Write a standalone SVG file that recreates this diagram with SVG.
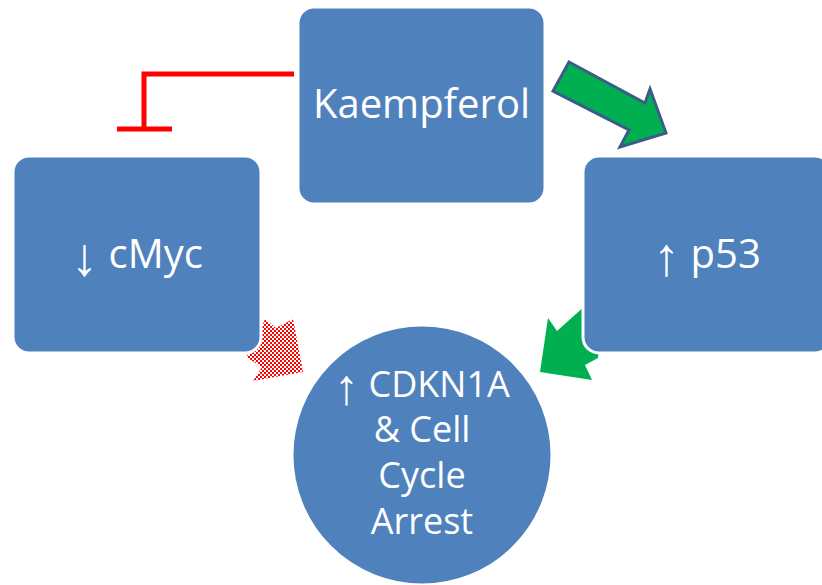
<svg xmlns="http://www.w3.org/2000/svg" width="822" height="585" viewBox="0 0 822 585">
  <defs>
    <pattern id="checks" width="4" height="4" patternUnits="userSpaceOnUse">
      <rect width="4" height="4" fill="#ffffff"/>
      <rect width="2" height="2" fill="#ff0000"/>
      <rect x="2" y="2" width="2" height="2" fill="#ff0000"/>
    </pattern>
  </defs>
  <style>
    .node { fill: #4F81BD; stroke: #ffffff; stroke-width: 3; }
    .lbl { fill: #ffffff; font-family: "Open Sans", "Liberation Sans", sans-serif; text-anchor: middle; }
    .big { font-size: 40px; }
    .mid { font-size: 36px; }
    .arw { font-family: "Liberation Sans", sans-serif; }
    .inhib { fill: none; stroke: #ff0000; stroke-width: 5; }
  </style>
  <rect width="822" height="585" fill="#ffffff"/>
  <g id="connectors">
    <path class="inhib" d="M294,74 H144 V129 M117,129 H172"/>
    <polygon points="569,62 645,103 650,89 666,133 620,147 629,130 553,91" fill="#00B050" stroke="#385D8A" stroke-width="3" stroke-linejoin="miter"/>
    <polygon points="265,319 276,328 293,319 303,372 253,381 262,367 246,357 255,345" fill="url(#checks)"/>
    <polygon points="548,318 557,331 586,305 600,340 598,358 585,365 592,380 540,372" fill="#00B050"/>
  </g>
  <g id="kaempferol">
    <rect class="node" x="298" y="7" width="247" height="197" rx="16"/>
    <text class="lbl big" x="421.5" y="118">Kaempferol</text>
  </g>
  <g id="cmyc">
    <rect class="node" x="13" y="156" width="248" height="197" rx="16"/>
    <text class="lbl big" x="137" y="268"><tspan class="arw" font-size="54" dy="7">↓</tspan><tspan dy="-7"> cMyc</tspan></text>
  </g>
  <g id="p53">
    <rect class="node" x="583" y="156" width="248" height="197" rx="16"/>
    <text class="lbl big" x="707" y="268"><tspan class="arw" font-size="54" dy="7">↑</tspan><tspan dy="-7"> p53</tspan></text>
  </g>
  <g id="cdkn1a">
    <circle class="node" cx="422" cy="455" r="130"/>
    <text class="lbl mid" x="422" y="397"><tspan class="arw" font-size="50" dy="7">↑</tspan><tspan dy="-7"> CDKN1A</tspan></text>
    <text class="lbl mid" x="422" y="442">&amp; Cell</text>
    <text class="lbl mid" x="422" y="488">Cycle</text>
    <text class="lbl mid" x="422" y="534">Arrest</text>
  </g>
</svg>
